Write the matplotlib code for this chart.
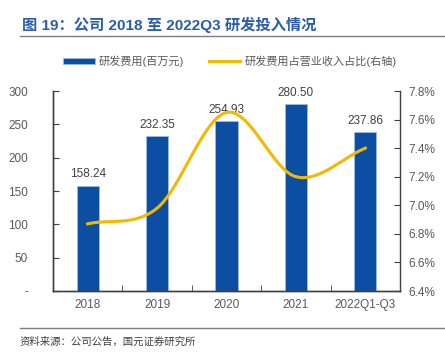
import numpy as np
import matplotlib.pyplot as plt
from matplotlib.ticker import FuncFormatter

plt.rcParams['font.family'] = ['Liberation Sans', 'Noto Sans CJK SC', 'DejaVu Sans']

# data
years = ['2018', '2019', '2020', '2021', '2022Q1-Q3']
rd_cost = [158.24, 232.35, 254.93, 280.50, 237.86]      # 百万元
rd_ratio = [6.87, 6.98, 7.65, 7.20, 7.40]               # %


def smooth(xs, ys, n=30):
    # catmull-rom curve, similar to excel "smoothed line"
    xs = np.asarray(xs, float)
    ys = np.asarray(ys, float)
    px = np.concatenate([[2 * xs[0] - xs[1]], xs, [2 * xs[-1] - xs[-2]]])
    py = np.concatenate([[2 * ys[0] - ys[1]], ys, [2 * ys[-1] - ys[-2]]])
    outx, outy = [], []
    t = np.linspace(0, 1, n)
    for i in range(1, len(px) - 2):
        for p, out in ((px, outx), (py, outy)):
            p0, p1, p2, p3 = p[i - 1], p[i], p[i + 1], p[i + 2]
            out.extend(0.5 * (2 * p1 + (-p0 + p2) * t
                              + (2 * p0 - 5 * p1 + 4 * p2 - p3) * t ** 2
                              + (-p0 + 3 * p1 - 3 * p2 + p3) * t ** 3))
    return np.array(outx), np.array(outy)


fig = plt.figure(figsize=(4.45, 3.54), dpi=100)
ax = fig.add_axes([53 / 445, 1 - 291 / 354, 347 / 445, 200 / 354])
ax2 = ax.twinx()

x = np.arange(len(years))
ax.bar(x, rd_cost, width=0.32, color='#0b4ea2', edgecolor='#9dbbe3',
       linewidth=0.6, label='研发费用(百万元)', zorder=2)
for xi, v in zip(x, rd_cost):
    ax.text(xi, v + 8, f'{v:.2f}', ha='center', va='bottom', fontsize=8.5,
            color='#404040')

sx, sy = smooth(x, rd_ratio)
ax2.plot(sx, sy, color='#f5b800', lw=2.2, label='研发费用占营业收入占比(右轴)')

ax.set_xlim(-0.5, 4.5)
ax.set_ylim(0, 300)
ax.set_yticks(range(0, 301, 50))
ax.yaxis.set_major_formatter(FuncFormatter(lambda v, p: '-' if v == 0 else f'{v:.0f}'))
ax2.set_ylim(6.4, 7.8)
ax2.set_yticks(np.arange(6.4, 7.81, 0.2))
ax2.yaxis.set_major_formatter(FuncFormatter(lambda v, p: f'{v:.1f}%'))

ax.set_xticks(x)
ax.set_xticklabels(years)
for a in (ax, ax2):
    a.spines['top'].set_visible(False)
    for s in a.spines.values():
        s.set_color('#404040')
        s.set_linewidth(1.0)
    a.tick_params(labelsize=8.5, labelcolor='#595959', color='#404040')
ax.spines['right'].set_visible(False)
ax.tick_params(axis='y', direction='in', length=4, pad=18)
ax2.tick_params(axis='y', direction='in', length=4, pad=6)
# x ticks between categories
ax.set_xticks(np.arange(0.5, 4, 1), minor=True)
ax.tick_params(axis='x', which='major', length=0, pad=6)
ax.tick_params(axis='x', which='minor', direction='in', length=4, color='#404040')

h1, l1 = ax.get_legend_handles_labels()
h2, l2 = ax2.get_legend_handles_labels()
fig.legend(h1 + h2, l1 + l2, loc='center', bbox_to_anchor=(230 / 445, 1 - 61 / 354),
           ncol=2, frameon=False, fontsize=8, handlelength=2.8, handleheight=0.5,
           handletextpad=0.4, columnspacing=2.2, labelcolor='#595959')

fig.text(22 / 445, 1 - 25 / 354, '图 19：公司 2018 至 2022Q3 研发投入情况', fontsize=11,
         fontweight='bold', color='#2a5caa', va='center')
fig.add_artist(plt.Line2D([20 / 445, 1], [1 - 36 / 354] * 2, color='#7f7f7f', lw=1))
fig.add_artist(plt.Line2D([20 / 445, 1], [1 - 328 / 354] * 2, color='#7f7f7f', lw=1))
fig.text(20 / 445, 1 - 342 / 354, '资料来源：公司公告，国元证券研究所', fontsize=7.5,
         color='#404040', va='center')

fig.savefig('out.png', dpi=100)
